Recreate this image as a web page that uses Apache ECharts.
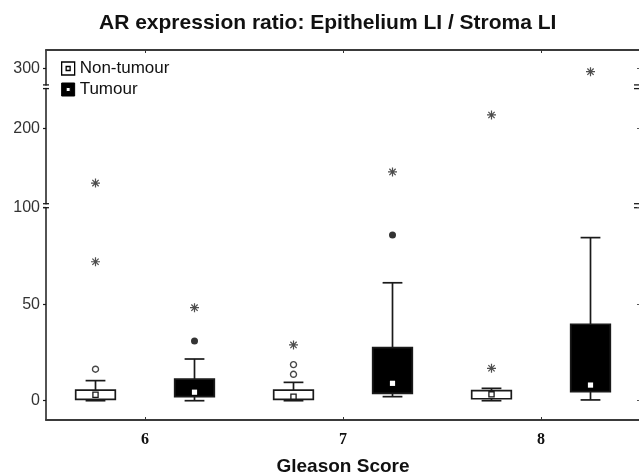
<!DOCTYPE html>
<html>
<head>
<meta charset="utf-8">
<script src="https://cdn.jsdelivr.net/npm/echarts@6/dist/echarts.min.js"></script>
<style>
  html, body { margin: 0; padding: 0; background: #fff; }
  #chart { width: 639px; height: 475px; }
</style>
</head>
<body>
<div id="chart"></div>
<script>
// Gleason scores on the x axis
const scores = [6, 7, 8];
const groupNames = ['Non-tumour', 'Tumour'];

// Box summaries per score: [min, Q1, median, Q3, max] (non-outlier range)
const nonTumourBox = [
  [0, 0.7, 3.1, 5.5, 10.4],
  [0, 0.7, 2.1, 5.5, 9.5],
  [0, 1.0, 3.3, 5.2, 6.4]
];
const tumourBox = [
  [0, 2.1, 4.4, 11.2, 21.6],
  [2.1, 3.8, 9.0, 27.5, 61.1],
  [0.4, 4.7, 8.1, 39.6, 84.5]
];

// Outliers (circles) and extremes (asterisks) per score
const nonTumourOutliers = [[16.3], [13.7, 18.7], []];
const nonTumourExtremes = [[72, 131], [28.9], [16.8, 216.8]];
const tumourOutliers = [[30.9], [85.9], []];
const tumourExtremes = [[48.2], [145], [295.7]];

// Y tick labels
const yTicks = [0, 50, 100, 200, 300];

// The y axis is broken into three stacked panels, each with its own linear scale
const PLOT_LEFT = 46;
const PLOT_WIDTH = 594;
const panels = [
  { min: -10, max: 100, top: 207.7, height: 212.3 },
  { min: 105, max: 250, top: 88.6, height: 115.1 },
  { min: 279, max: 323, top: 50, height: 34.9 }
];
const DODGE = 0.25; // horizontal shift of the two groups around each score

const INK = '#1a1a1a';
const FONT = '"Liberation Sans", Arial, sans-serif';

const starPath = 'path://M0,5L10,5M5,0L5,10M1.5,1.5L8.5,8.5M8.5,1.5L1.5,8.5';
const legendIconPath = 'path://M0,0H13V13H0Z M4.5,4.5V8.5H8.5V4.5Z';

function renderBox(fill, medianFill, medianStroke) {
  return function (params, api) {
    const x = api.value(0);
    const unit = api.size([1, 0])[0];
    const half = unit * 0.1;
    const capHalf = unit * 0.05;
    const pMin = api.coord([x, api.value(1)]);
    const pQ1 = api.coord([x, api.value(2)]);
    const pMed = api.coord([x, api.value(3)]);
    const pQ3 = api.coord([x, api.value(4)]);
    const pMax = api.coord([x, api.value(5)]);
    const cx = pMin[0];
    const ls = { stroke: INK, lineWidth: 1.7 };
    return {
      type: 'group',
      children: [
        { type: 'line', shape: { x1: cx, y1: pMax[1], x2: cx, y2: pMin[1] }, style: ls },
        { type: 'line', shape: { x1: cx - capHalf, y1: pMax[1], x2: cx + capHalf, y2: pMax[1] }, style: ls },
        { type: 'line', shape: { x1: cx - capHalf, y1: pMin[1], x2: cx + capHalf, y2: pMin[1] }, style: ls },
        { type: 'rect', shape: { x: cx - half, y: pQ3[1], width: half * 2, height: pQ1[1] - pQ3[1] },
          style: { fill: fill, stroke: INK, lineWidth: 1.7 } },
        { type: 'rect', shape: { x: cx - 2.6, y: pMed[1] - 2.6, width: 5.2, height: 5.2 },
          style: { fill: medianFill, stroke: medianStroke, lineWidth: medianStroke === 'none' ? 0 : 1.3 } }
      ]
    };
  };
}

function boxData(boxes, offset) {
  return boxes.map((b, i) => [scores[i] + offset].concat(b));
}

function pointData(lists, offset, panel) {
  const out = [];
  lists.forEach((vals, i) => {
    vals.forEach(v => {
      if (v >= panel.min && v <= panel.max) out.push([scores[i] + offset, v]);
    });
  });
  return out;
}

const grids = [];
const xAxes = [];
const yAxes = [];
const series = [];

panels.forEach((p, k) => {
  grids.push({ left: PLOT_LEFT, width: PLOT_WIDTH, top: p.top, height: p.height, outerBoundsMode: 'none' });
  const ticksHere = yTicks.filter(t => t >= p.min && t <= p.max);
  const xBase = {
    gridIndex: k, type: 'value', min: 5.5, max: 8.5,
    splitLine: { show: false }
  };
  if (k === 0) {
    xAxes.push(Object.assign({}, xBase, {
      position: 'bottom',
      name: 'Gleason Score', nameLocation: 'middle', nameGap: 37,
      nameTextStyle: { fontFamily: FONT, fontWeight: 'bold', fontSize: 19, color: '#111' },
      axisLine: { onZero: false, lineStyle: { color: '#3a3a3a', width: 2 } },
      axisTick: { inside: true, length: 3, customValues: scores, lineStyle: { color: '#333' } },
      axisLabel: { customValues: scores, margin: 12,
        fontFamily: '"Liberation Serif", "Times New Roman", serif', fontWeight: 'bold', fontSize: 16, color: '#111' }
    }));
  } else if (k === panels.length - 1) {
    xAxes.push(Object.assign({}, xBase, {
      position: 'top',
      axisLine: { onZero: false, lineStyle: { color: '#3a3a3a', width: 2 } },
      axisTick: { inside: true, length: 3, customValues: scores, lineStyle: { color: '#333' } },
      axisLabel: { show: false }
    }));
  } else {
    xAxes.push(Object.assign({}, xBase, { show: false, axisLine: { onZero: false } }));
  }
  yAxes.push({
    gridIndex: k, type: 'value', min: p.min, max: p.max, position: 'left',
    splitLine: { show: false },
    axisLine: { show: true, onZero: false, lineStyle: { color: INK, width: 1.5 } },
    axisTick: { show: true, length: 3, customValues: ticksHere, lineStyle: { color: INK, width: 1.2 } },
    axisLabel: { customValues: ticksHere, margin: 6, fontFamily: FONT, fontSize: 16, color: '#333' }
  });
  yAxes.push({
    gridIndex: k, type: 'value', min: p.min, max: p.max, position: 'right',
    splitLine: { show: false },
    axisLine: { show: false, onZero: false },
    axisTick: { show: true, inside: true, length: 3, customValues: ticksHere, lineStyle: { color: '#555', width: 1.2 } },
    axisLabel: { show: false }
  });

  const yIdx = k * 2;
  if (k === 0) {
    series.push({
      name: groupNames[0], type: 'custom', xAxisIndex: k, yAxisIndex: yIdx,
      renderItem: renderBox('#ffffff', '#ffffff', INK),
      encode: { x: 0, y: [1, 2, 3, 4, 5] },
      data: boxData(nonTumourBox, -DODGE), z: 3
    });
    series.push({
      name: groupNames[1], type: 'custom', xAxisIndex: k, yAxisIndex: yIdx,
      renderItem: renderBox('#000000', '#ffffff', 'none'),
      encode: { x: 0, y: [1, 2, 3, 4, 5] },
      data: boxData(tumourBox, DODGE), z: 3
    });
  }
  series.push({
    name: groupNames[0], type: 'scatter', xAxisIndex: k, yAxisIndex: yIdx,
    symbol: 'circle', symbolSize: 6,
    itemStyle: { color: '#fff', borderColor: INK, borderWidth: 1.4 },
    data: pointData(nonTumourOutliers, -DODGE, p), z: 4
  });
  series.push({
    name: groupNames[1], type: 'scatter', xAxisIndex: k, yAxisIndex: yIdx,
    symbol: 'circle', symbolSize: 7,
    itemStyle: { color: '#000', borderWidth: 0 },
    data: pointData(tumourOutliers, DODGE, p), z: 4
  });
  series.push({
    name: groupNames[0], type: 'scatter', xAxisIndex: k, yAxisIndex: yIdx,
    symbol: starPath, symbolSize: 9,
    itemStyle: { color: 'none', borderColor: '#222', borderWidth: 1.2 },
    data: pointData(nonTumourExtremes, -DODGE, p), z: 4
  });
  series.push({
    name: groupNames[1], type: 'scatter', xAxisIndex: k, yAxisIndex: yIdx,
    symbol: starPath, symbolSize: 9,
    itemStyle: { color: 'none', borderColor: '#222', borderWidth: 1.2 },
    data: pointData(tumourExtremes, DODGE, p), z: 4
  });
});

// Short "=" marks where the vertical axes are broken between panels
const breakMarks = [];
for (let k = 0; k < panels.length - 1; k++) {
  const lowerTop = panels[k].top;
  const upperBottom = panels[k + 1].top + panels[k + 1].height;
  [PLOT_LEFT, PLOT_LEFT + PLOT_WIDTH - 3].forEach(x => {
    [lowerTop, upperBottom].forEach(y => {
      breakMarks.push({
        type: 'line', silent: true,
        shape: { x1: x - 3, y1: y, x2: x + 3, y2: y },
        style: { stroke: INK, lineWidth: 1.3 }
      });
    });
  });
}

const chart = echarts.init(document.getElementById('chart'), null, { renderer: 'canvas' });
chart.setOption({
  animation: false,
  backgroundColor: '#fff',
  title: {
    text: 'AR expression ratio: Epithelium LI / Stroma LI',
    left: 94, top: 8,
    textStyle: { fontFamily: FONT, fontWeight: 'bold', fontSize: 21, color: '#111' }
  },
  legend: {
    left: 56, top: 55, orient: 'vertical',
    itemWidth: 13, itemHeight: 13, itemGap: 4,
    textStyle: { fontFamily: FONT, fontSize: 17, color: '#111', lineHeight: 16 },
    data: [
      { name: groupNames[0], icon: legendIconPath,
        itemStyle: { color: '#fff', borderColor: '#000', borderWidth: 1.3 } },
      { name: groupNames[1], icon: legendIconPath,
        itemStyle: { color: '#000', borderColor: '#000', borderWidth: 1 } }
    ],
    selectedMode: false
  },
  grid: grids,
  xAxis: xAxes,
  yAxis: yAxes,
  series: series,
  graphic: breakMarks
});
</script>
</body>
</html>
